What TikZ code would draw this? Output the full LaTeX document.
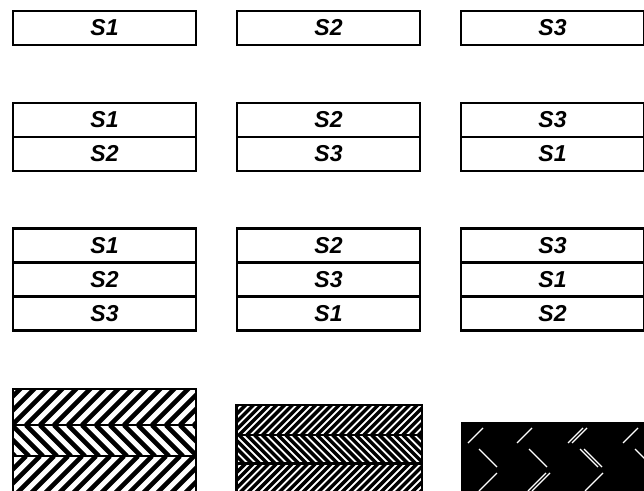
\documentclass[tikz,border=0pt]{standalone}
\usepackage{fontspec}
\setmainfont{Liberation Sans}
\begin{document}
\begin{tikzpicture}[x=1pt, y=-1pt, line width=2.9pt, node distance=34pt,
    cell/.style={draw, rectangle, minimum width=183pt, minimum height=34pt, inner sep=0pt,
      font=\fontsize{23}{23}\selectfont\bfseries\itshape},
    hatch/.style={line width=4.6pt},
    finehatch/.style={line width=3.4pt},
    whitestroke/.style={white, line width=1.3pt}]
  \useasboundingbox (0,0) rectangle (644,490);
  % one layer
  \node[cell] (s1) at (104.5,28) {S1};
  \node[cell, right of=s1, node distance=224pt] (s2) {S2};
  \node[cell, right of=s2, node distance=224pt] (s3) {S3};
  % two layers
  \node[cell] (d1a) at (104.5,120) {S1};
  \node[cell, below of=d1a] (d1b) {S2};
  \node[cell, right of=d1a, node distance=224pt] (d2a) {S2};
  \node[cell, below of=d2a] (d2b) {S3};
  \node[cell, right of=d2a, node distance=224pt] (d3a) {S3};
  \node[cell, below of=d3a] (d3b) {S1};
  % three layers
  \node[cell] (t1a) at (104.5,245.5) {S1};
  \node[cell, below of=t1a] (t1b) {S2};
  \node[cell, below of=t1b] (t1c) {S3};
  \node[cell, right of=t1a, node distance=224pt] (t2a) {S2};
  \node[cell, below of=t2a] (t2b) {S3};
  \node[cell, below of=t2b] (t2c) {S1};
  \node[cell, right of=t2a, node distance=224pt] (t3a) {S3};
  \node[cell, below of=t3a] (t3b) {S1};
  \node[cell, below of=t3b] (t3c) {S2};
  % coarse herringbone
  \begin{scope}
    \clip (13,389) rectangle (196,425);
    \foreach \a in {-30,-16,...,210} \draw[hatch] (\a,425) -- ++(40,-40);
  \end{scope}
  \begin{scope}
    \clip (13,425) rectangle (196,456);
    \foreach \a in {-30,-16,...,210} \draw[hatch] (\a,425) -- ++(31,31);
  \end{scope}
  \begin{scope}
    \clip (13,456) rectangle (196,495);
    \foreach \a in {-30,-16,...,250} \draw[hatch] (\a,456) -- ++(-40,40);
  \end{scope}
  \draw (13,389) rectangle (196,500);
  \draw (13,425) -- (196,425) (13,456) -- (196,456);
  % fine herringbone
  \begin{scope}
    \clip (236.5,405) rectangle (422,435);
    \foreach \a in {200,207.8,...,430} \draw[finehatch] (\a,435) -- ++(34,-34);
  \end{scope}
  \begin{scope}
    \clip (236.5,435) rectangle (422,463.5);
    \foreach \a in {200,207.8,...,430} \draw[finehatch] (\a,435) -- ++(28.5,28.5);
  \end{scope}
  \begin{scope}
    \clip (236.5,463.5) rectangle (422,495);
    \foreach \a in {230,237.8,...,460} \draw[finehatch] (\a,463.5) -- ++(-34,34);
  \end{scope}
  \draw (236.5,405) rectangle (422,500);
  \draw (236.5,435) -- (422,435) (236.5,463.5) -- (422,463.5);
  % solid block
  \fill (460.5,421.5) rectangle (650,500);
  \foreach \a in {468,517,568,572,623} \draw[whitestroke] (\a,443) -- ++(15,-15);
  \foreach \a in {479,529,580,584,635} \draw[whitestroke] (\a,449) -- ++(18,18);
  \foreach \a in {497,546,550,603} \draw[whitestroke] (\a,473) -- ++(-18,18);
\end{tikzpicture}
\end{document}
